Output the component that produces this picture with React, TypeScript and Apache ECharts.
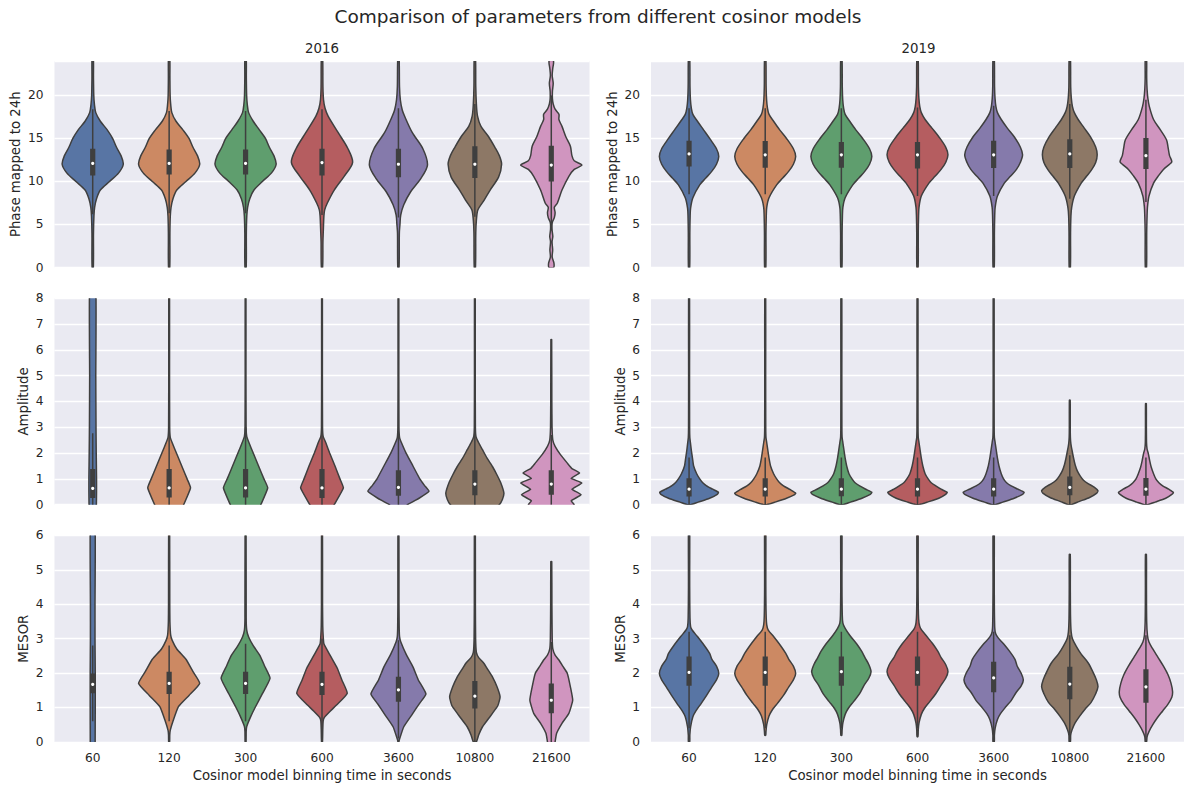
import React, { useEffect, useRef } from "react";
import * as echarts from "echarts";

// ---------- data ----------
const categories = ["60", "120", "300", "600", "3600", "10800", "21600"];
const yearTitles = ["2016", "2019"];
const yNames = ["Phase mapped to 24h", "Amplitude", "MESOR"];
const xName = "Cosinor model binning time in seconds";
const mainTitle = "Comparison of parameters from different cosinor models";

// violin half-widths (fraction of category band) at given y values: [y, halfWidth]
const phase2016Profiles = [
  [[0,0.008],[4,0.01],[6,0.016],[7,0.025],[8,0.05],[9,0.1],[10,0.22],[11,0.34],[12,0.4],[13,0.37],[14,0.31],[15,0.26],[16,0.19],[17,0.1],[18,0.04],[19,0.022],[20,0.014],[22,0.01],[24.5,0.008]],
  [[0,0.008],[4,0.01],[6,0.015],[7,0.025],[8,0.05],[9,0.1],[10,0.22],[11,0.34],[12,0.4],[13,0.37],[14,0.31],[15,0.26],[16,0.18],[17,0.09],[18,0.035],[19,0.02],[20,0.013],[22,0.01],[24.5,0.008]],
  [[0,0.008],[4,0.01],[6,0.016],[7,0.027],[8,0.055],[9,0.11],[10,0.22],[11,0.34],[12,0.4],[13,0.37],[14,0.31],[15,0.26],[16,0.18],[17,0.1],[18,0.04],[19,0.022],[20,0.014],[22,0.01],[24.5,0.008]],
  [[0,0.008],[3,0.012],[4,0.016],[6,0.025],[6.7,0.035],[7.5,0.07],[9,0.16],[10.6,0.29],[12.2,0.4],[13.8,0.34],[15.7,0.21],[17.6,0.08],[18.5,0.04],[19.5,0.02],[21,0.012],[24.5,0.008]],
  [[0,0.008],[4,0.012],[5,0.02],[6.1,0.03],[7.3,0.07],[8.8,0.16],[10.3,0.29],[11.9,0.38],[13.8,0.32],[15.7,0.18],[17.6,0.08],[18.3,0.05],[19.5,0.025],[21,0.014],[24.5,0.008]],
  [[0,0.008],[4,0.012],[5.5,0.02],[6.7,0.04],[7.8,0.12],[9,0.2],[10.5,0.31],[12,0.35],[13,0.32],[14,0.26],[15.2,0.18],[16.4,0.08],[17.6,0.035],[19,0.02],[21,0.012],[24.5,0.008]],
  [[0,0.03],[0.5,0.035],[1.2,0.012],[2.05,0.018],[3,0.01],[3.6,0.02],[4.4,0.01],[5.2,0.012],[5.8,0.04],[6.35,0.05],[7,0.04],[7.5,0.08],[9,0.14],[10.6,0.23],[11.4,0.3],[11.9,0.4],[12.4,0.3],[13,0.27],[14.1,0.25],[15.2,0.19],[16.4,0.14],[17.2,0.1],[17.8,0.1],[18.4,0.05],[19,0.025],[19.6,0.015],[20.5,0.015],[21.4,0.025],[22.3,0.012],[23.2,0.02],[23.8,0.03],[24.5,0.02]],
];
// [lower whisker, Q1, median, Q3, upper whisker]
const phase2016Boxes = [
  [6.2,10.7,12.1,13.8,18.4],[6.3,10.8,12.1,13.7,18.2],[6.3,10.8,12.1,13.7,18.2],[6.1,10.7,12.2,13.8,18.4],
  [5.8,10.5,12.0,13.8,18.5],[5.9,10.4,12.0,14.1,19.0],[4.3,10.0,11.9,14.15,20.0],
];

const phase2019Profiles = [
  [[0,0.008],[4,0.01],[6,0.014],[6.9,0.02],[8.1,0.05],[9.6,0.14],[10.4,0.22],[11.2,0.3],[12,0.36],[12.9,0.39],[13.8,0.36],[15.0,0.27],[16,0.19],[17,0.11],[17.8,0.05],[18.5,0.03],[19.5,0.018],[21,0.012],[24.5,0.008]],
  [[0,0.008],[4,0.01],[6,0.014],[7,0.02],[8.1,0.05],[9.6,0.15],[10.4,0.23],[11.2,0.31],[12,0.37],[12.9,0.4],[13.8,0.37],[15.0,0.28],[16,0.19],[17,0.11],[17.8,0.05],[18.5,0.03],[19.5,0.018],[21,0.012],[24.5,0.008]],
  [[0,0.008],[4,0.01],[6,0.014],[7,0.02],[8.1,0.05],[9.6,0.15],[10.4,0.23],[11.2,0.31],[12,0.37],[12.9,0.4],[13.8,0.37],[15.0,0.28],[16,0.19],[17,0.11],[17.8,0.05],[18.5,0.03],[19.5,0.018],[21,0.012],[24.5,0.008]],
  [[0,0.008],[4,0.01],[6,0.014],[7,0.02],[8.3,0.05],[9.8,0.15],[10.6,0.23],[11.4,0.31],[12.2,0.37],[13.1,0.4],[14,0.37],[15.2,0.28],[16.2,0.19],[17.2,0.1],[18,0.05],[18.7,0.03],[19.7,0.018],[21,0.012],[24.5,0.008]],
  [[0,0.008],[4,0.01],[6,0.014],[7,0.02],[8.3,0.05],[9.8,0.14],[10.6,0.22],[11.4,0.3],[12.2,0.35],[13.1,0.38],[14,0.35],[15.2,0.27],[16.2,0.18],[17.2,0.1],[18,0.05],[18.7,0.03],[19.7,0.018],[21,0.012],[24.5,0.008]],
  [[0,0.008],[4,0.01],[6,0.015],[7,0.025],[8.3,0.06],[9.8,0.15],[10.6,0.22],[11.4,0.29],[12.2,0.34],[13.1,0.36],[14,0.34],[15.2,0.27],[16.2,0.19],[17.2,0.11],[18,0.06],[18.7,0.035],[19.7,0.02],[21,0.012],[24.5,0.008]],
  [[0,0.008],[4,0.01],[6,0.015],[7,0.02],[8.3,0.04],[9.8,0.1],[10.6,0.16],[11.4,0.23],[12.0,0.31],[12.3,0.34],[13,0.31],[14.0,0.29],[14.85,0.27],[16,0.19],[17.2,0.1],[18.7,0.045],[19.7,0.025],[20.7,0.015],[22,0.01],[24.5,0.008]],
];
const phase2019Boxes = [
  [8.5,11.74,13.2,14.73,18.5],[8.5,11.6,13.1,14.7,18.5],[8.5,11.6,13.1,14.6,18.5],[8.3,11.5,13.1,14.6,18.6],
  [8.3,11.56,13.1,14.73,18.8],[8.0,11.56,13.2,14.9,19.0],[7.6,11.44,13.0,15.05,19.5],
];

const amp2016Profiles = [
  [[-0.2,0.045],[0,0.048],[0.5,0.05],[1,0.05],[2,0.046],[3,0.043],[5,0.04],[8.5,0.04]],
  [[-0.3,0.14],[0,0.19],[0.65,0.28],[1.0,0.235],[1.5,0.165],[2.0,0.095],[2.4,0.04],[2.6,0.015],[3,0.007],[5,0.005],[8.5,0.005]],
  [[-0.3,0.15],[0,0.2],[0.65,0.29],[1.0,0.24],[1.5,0.17],[2.0,0.1],[2.4,0.045],[2.65,0.015],[3,0.007],[5,0.005],[8.5,0.005]],
  [[-0.3,0.11],[0,0.16],[0.65,0.28],[1.0,0.235],[1.5,0.17],[2.0,0.1],[2.4,0.05],[2.65,0.015],[3,0.007],[5,0.005],[8.5,0.005]],
  [[-0.3,0.04],[0,0.12],[0.25,0.27],[0.52,0.4],[0.75,0.34],[1.0,0.28],[1.5,0.19],[2.0,0.1],[2.4,0.04],[2.6,0.015],[3,0.007],[5,0.005],[8.5,0.005]],
  [[-0.3,0.2],[0,0.32],[0.2,0.36],[0.45,0.38],[0.84,0.34],[1.15,0.29],[1.48,0.23],[1.8,0.16],[2.13,0.1],[2.4,0.05],[2.64,0.015],[3,0.007],[5,0.005],[8.5,0.005]],
  [[-0.2,0.22],[0,0.3],[0.15,0.26],[0.39,0.39],[0.6,0.27],[0.84,0.4],[1.02,0.26],[1.23,0.37],[1.4,0.27],[1.61,0.21],[1.94,0.12],[2.26,0.05],[2.5,0.02],[3,0.01],[4,0.007],[6.4,0.005]],
];
const amp2016Boxes = [
  [0,0.26,0.63,1.38,2.77],[0,0.28,0.65,1.38,3.0],[0,0.28,0.65,1.38,3.0],[0,0.26,0.65,1.38,3.0],
  [0,0.35,0.67,1.33,2.8],[0,0.37,0.8,1.33,2.8],[0,0.39,0.8,1.33,2.7],
];

const amp2019Profiles = [
  [[0,0.02],[0.1,0.12],[0.25,0.27],[0.4,0.37],[0.48,0.385],[0.6,0.31],[0.73,0.23],[0.85,0.18],[1.0,0.14],[1.2,0.1],[1.5,0.06],[1.8,0.045],[2.1,0.03],[2.4,0.018],[2.6,0.01],[3,0.007],[5,0.006],[8.5,0.006]],
  [[0,0.02],[0.1,0.13],[0.25,0.28],[0.38,0.38],[0.45,0.4],[0.58,0.33],[0.73,0.24],[0.85,0.19],[1.0,0.15],[1.2,0.11],[1.5,0.07],[1.8,0.05],[2.1,0.035],[2.4,0.02],[2.6,0.01],[3,0.007],[5,0.006],[8.5,0.006]],
  [[0,0.02],[0.1,0.12],[0.25,0.27],[0.4,0.38],[0.48,0.4],[0.6,0.32],[0.73,0.24],[0.85,0.18],[1.0,0.14],[1.2,0.1],[1.5,0.07],[1.8,0.05],[2.1,0.035],[2.4,0.02],[2.6,0.01],[3,0.007],[5,0.006],[8.5,0.006]],
  [[0,0.02],[0.1,0.13],[0.25,0.28],[0.4,0.37],[0.48,0.39],[0.6,0.31],[0.73,0.24],[0.85,0.18],[1.0,0.14],[1.2,0.1],[1.5,0.07],[1.8,0.05],[2.1,0.035],[2.4,0.02],[2.6,0.01],[3,0.007],[5,0.006],[8.5,0.006]],
  [[0,0.02],[0.1,0.12],[0.25,0.27],[0.4,0.38],[0.48,0.4],[0.6,0.32],[0.73,0.23],[0.85,0.17],[1.0,0.13],[1.2,0.1],[1.5,0.07],[1.8,0.05],[2.1,0.035],[2.4,0.02],[2.6,0.01],[3,0.007],[5,0.006],[8.5,0.006]],
  [[0,0.02],[0.12,0.12],[0.28,0.26],[0.44,0.35],[0.54,0.37],[0.68,0.32],[0.82,0.24],[0.95,0.18],[1.1,0.14],[1.3,0.1],[1.55,0.07],[1.8,0.05],[2.1,0.03],[2.35,0.015],[2.6,0.008],[3,0.006],[4.05,0.005]],
  [[0,0.02],[0.1,0.12],[0.25,0.26],[0.4,0.34],[0.48,0.36],[0.6,0.3],[0.73,0.22],[0.85,0.17],[1.0,0.13],[1.2,0.1],[1.45,0.07],[1.7,0.05],[2.0,0.03],[2.15,0.015],[2.4,0.008],[3,0.006],[3.92,0.005]],
];
const amp2019Boxes = [
  [0,0.32,0.6,1.02,1.83],[0,0.32,0.6,1.02,1.83],[0,0.33,0.6,1.02,1.83],[0,0.32,0.6,1.02,1.83],
  [0,0.32,0.6,1.02,1.83],[0,0.37,0.67,1.09,1.92],[0,0.35,0.6,1.03,1.83],
];

const mesor2016Profiles = [
  [[-0.2,0.03],[0,0.032],[1,0.033],[2,0.033],[3,0.03],[4,0.03],[6.5,0.03]],
  [[0,0.006],[0.2,0.008],[0.34,0.015],[0.6,0.05],[1.02,0.12],[1.35,0.26],[1.7,0.4],[2.05,0.31],[2.4,0.22],[2.7,0.1],[2.95,0.04],[3.1,0.02],[3.5,0.01],[4,0.008],[6.5,0.006]],
  [[0,0.006],[0.3,0.008],[0.45,0.015],[0.75,0.07],[1.0,0.125],[1.4,0.22],[1.85,0.32],[2.2,0.25],[2.5,0.19],[2.8,0.1],[3.05,0.04],[3.25,0.015],[3.6,0.008],[6.5,0.006]],
  [[0,0.006],[0.35,0.01],[0.6,0.015],[0.71,0.03],[0.9,0.11],[1.07,0.19],[1.41,0.33],[1.8,0.26],[2.14,0.2],[2.5,0.11],[2.85,0.025],[3.1,0.015],[3.35,0.01],[4,0.007],[6.5,0.006]],
  [[0,0.006],[0.05,0.01],[0.44,0.07],[0.8,0.18],[1.1,0.27],[1.39,0.36],[1.8,0.26],[2.18,0.19],[2.55,0.1],[2.91,0.03],[3.05,0.015],[3.3,0.01],[4,0.007],[6.5,0.006]],
  [[0,0.02],[0.2,0.05],[0.44,0.1],[0.65,0.17],[0.83,0.23],[1.05,0.3],[1.31,0.33],[1.6,0.29],[1.89,0.23],[2.1,0.17],[2.28,0.12],[2.45,0.05],[2.6,0.02],[3,0.01],[4,0.007],[6.5,0.006]],
  [[-0.2,0.04],[0,0.05],[0.25,0.07],[0.54,0.14],[0.83,0.23],[1.21,0.28],[1.6,0.25],[1.99,0.21],[2.2,0.15],[2.38,0.1],[2.52,0.05],[2.7,0.02],[3,0.012],[4,0.008],[5.24,0.006]],
];
const mesor2016Boxes = [
  [0.6,1.41,1.67,1.99,2.8],[0.6,1.39,1.7,2.04,2.8],[0.6,1.39,1.7,2.04,2.85],[0.35,1.36,1.67,2.04,3.0],
  [0.1,1.17,1.51,1.89,2.95],[0,0.97,1.33,1.77,2.95],[0,0.83,1.21,1.7,2.9],
];

const mesor2019Profiles = [
  [[0,0.008],[0.2,0.01],[0.44,0.02],[0.73,0.05],[0.9,0.09],[1.12,0.16],[1.35,0.23],[1.6,0.3],[1.8,0.36],[1.99,0.39],[2.2,0.36],[2.4,0.3],[2.57,0.27],[2.8,0.2],[3.06,0.11],[3.25,0.04],[3.35,0.02],[3.6,0.012],[4.5,0.008],[6.5,0.007]],
  [[0.19,0.006],[0.3,0.01],[0.5,0.02],[0.75,0.05],[0.92,0.09],[1.12,0.16],[1.35,0.24],[1.6,0.31],[1.8,0.37],[1.99,0.4],[2.2,0.37],[2.4,0.31],[2.57,0.27],[2.8,0.2],[3.06,0.11],[3.25,0.04],[3.4,0.02],[3.7,0.012],[4.5,0.008],[6.5,0.007]],
  [[0.19,0.006],[0.35,0.01],[0.55,0.02],[0.8,0.05],[0.97,0.09],[1.17,0.16],[1.4,0.24],[1.65,0.3],[1.85,0.36],[2.04,0.39],[2.25,0.36],[2.45,0.31],[2.62,0.27],[2.85,0.2],[3.1,0.11],[3.3,0.05],[3.45,0.02],[3.7,0.012],[4.5,0.008],[6.5,0.007]],
  [[0.15,0.006],[0.35,0.01],[0.55,0.02],[0.8,0.05],[0.97,0.09],[1.17,0.16],[1.4,0.24],[1.65,0.31],[1.85,0.37],[2.04,0.4],[2.25,0.37],[2.45,0.31],[2.62,0.27],[2.85,0.2],[3.1,0.11],[3.3,0.04],[3.45,0.02],[3.7,0.012],[4.5,0.008],[6.5,0.007]],
  [[0,0.008],[0.2,0.01],[0.4,0.02],[0.65,0.05],[0.82,0.09],[1.02,0.16],[1.2,0.23],[1.45,0.3],[1.62,0.36],[1.8,0.39],[2.0,0.36],[2.2,0.31],[2.4,0.28],[2.6,0.22],[2.85,0.13],[3.05,0.05],[3.2,0.02],[3.5,0.012],[4.5,0.008],[6.5,0.007]],
  [[0,0.008],[0.2,0.012],[0.35,0.03],[0.55,0.07],[0.75,0.13],[0.95,0.2],[1.15,0.28],[1.4,0.34],[1.6,0.37],[1.8,0.35],[2.05,0.3],[2.3,0.24],[2.55,0.15],[2.8,0.08],[3.0,0.035],[3.2,0.018],[3.6,0.01],[4.5,0.007],[5.45,0.006]],
  [[0,0.008],[0.15,0.015],[0.3,0.04],[0.5,0.09],[0.7,0.15],[0.9,0.22],[1.1,0.29],[1.3,0.34],[1.46,0.35],[1.7,0.33],[1.95,0.29],[2.2,0.23],[2.45,0.16],[2.7,0.09],[2.9,0.04],[3.1,0.02],[3.5,0.01],[4.5,0.007],[5.45,0.006]],
];
const mesor2019Boxes = [
  [0.4,1.63,2.02,2.48,3.2],[0.4,1.63,2.02,2.48,3.2],[0.4,1.63,2.04,2.48,3.2],[0.4,1.63,2.02,2.48,3.2],
  [0.2,1.44,1.86,2.33,3.2],[0,1.24,1.68,2.18,3.1],[0,1.14,1.6,2.11,3.1],
];

const yMaxes = [24, 8, 6];
const yIntervals = [5, 1, 1];

// ---------- styles / layout ----------
const violinColors = ["#5875A4", "#CC8963", "#5F9E6E", "#B55D60", "#857AAB", "#8D7866", "#D095BF"];
const FONT = "DejaVu Sans";
const TXT = "#262626";
const EDGE = "#3F3F3F";
const GRID_LEFTS = [54.5, 651];
const GRID_TOPS = [61, 298.2, 535.4];
const GRID_W = 535;
const GRID_H = 206.5;
const NAME_GAPS = [[32.3, 31.8], [24.1, 24], [24.1, 24]];

const panels = [
  { row: 0, col: 0, profiles: phase2016Profiles, boxes: phase2016Boxes, smooth: 0.3 },
  { row: 0, col: 1, profiles: phase2019Profiles, boxes: phase2019Boxes, smooth: 0.3 },
  { row: 1, col: 0, profiles: amp2016Profiles, boxes: amp2016Boxes, smooth: 0.12 },
  { row: 1, col: 1, profiles: amp2019Profiles, boxes: amp2019Boxes, smooth: 0.2 },
  { row: 2, col: 0, profiles: mesor2016Profiles, boxes: mesor2016Boxes, smooth: 0.15 },
  { row: 2, col: 1, profiles: mesor2019Profiles, boxes: mesor2019Boxes, smooth: 0.3 },
];

function makeRenderItem(profiles: number[][][], boxes: number[][], smooth: number) {
  return (params: any, api: any) => {
    const i = params.dataIndex;
    const prof = profiles[i];
    const box = boxes[i];
    const band = api.size([1, 0])[0];
    const right = prof.map(([y, w]) => {
      const p = api.coord([i, y]);
      return [p[0] + w * band, p[1]];
    });
    const left = prof
      .slice()
      .reverse()
      .map(([y, w]) => {
        const p = api.coord([i, y]);
        return [p[0] - w * band, p[1]];
      });
    const lo = api.coord([i, box[0]]);
    const q1 = api.coord([i, box[1]]);
    const med = api.coord([i, box[2]]);
    const q3 = api.coord([i, box[3]]);
    const hi = api.coord([i, box[4]]);
    return {
      type: "group",
      children: [
        {
          type: "polygon",
          shape: { points: right.concat(left), smooth },
          style: { fill: violinColors[i], stroke: EDGE, lineWidth: 1.5 },
        },
        {
          type: "line",
          shape: { x1: lo[0], y1: lo[1], x2: hi[0], y2: hi[1] },
          style: { stroke: EDGE, lineWidth: 1.5 },
        },
        {
          type: "rect",
          shape: { x: q3[0] - 2.6, y: q3[1], width: 5.2, height: q1[1] - q3[1] },
          style: { fill: EDGE },
        },
        {
          type: "circle",
          shape: { cx: med[0], cy: med[1], r: 1.6 },
          style: { fill: "#ffffff" },
        },
      ],
    };
  };
}

export default function App() {
  const ref = useRef<HTMLDivElement>(null);
  useEffect(() => {
    document.body.style.margin = "0";
    if (!ref.current) return;
    const chart = echarts.init(ref.current, undefined, { renderer: "svg" });

    const grids = panels.map((p) => ({
      left: GRID_LEFTS[p.col],
      top: GRID_TOPS[p.row],
      width: GRID_W,
      height: GRID_H,
      show: true,
      backgroundColor: "#EAEAF2",
      borderWidth: 0,
      containLabel: false,
    }));

    const xAxes = panels.map((p, k) => ({
      gridIndex: k,
      type: "category",
      data: categories,
      axisLine: { show: false },
      axisTick: { show: false },
      splitLine: { show: false },
      axisLabel: {
        show: p.row === 2,
        fontSize: 12.2,
        color: TXT,
        fontFamily: FONT,
        margin: 10.5,
      },
      name: p.row === 2 ? xName : "",
      nameLocation: "middle",
      nameGap: 27.1,
      nameTextStyle: { fontSize: 13.3, color: TXT, fontFamily: FONT },
    }));

    const yAxes = panels.map((p, k) => ({
      gridIndex: k,
      type: "value",
      min: 0,
      max: yMaxes[p.row],
      interval: yIntervals[p.row],
      axisLine: { show: false },
      axisTick: { show: false },
      splitLine: { show: true, lineStyle: { color: "#FFFFFF", width: 1.3 } },
      axisLabel: {
        fontSize: 12.2,
        color: TXT,
        fontFamily: FONT,
        margin: 11,
        showMaxLabel: p.row !== 0,
      },
      name: yNames[p.row],
      nameLocation: "middle",
      nameGap: NAME_GAPS[p.row][p.col],
      nameTextStyle: { fontSize: 13.3, color: TXT, fontFamily: FONT },
    }));

    const series = panels.map((p, k) => ({
      type: "custom",
      xAxisIndex: k,
      yAxisIndex: k,
      clip: true,
      encode: { x: 0, y: 1 },
      data: categories.map((_, i) => [i, p.boxes[i][2]]),
      renderItem: makeRenderItem(p.profiles, p.boxes, p.smooth),
    }));

    const titles: any[] = [
      {
        text: mainTitle,
        left: 598,
        top: 7,
        textAlign: "center",
        padding: 0,
        textStyle: { fontSize: 18.5, fontWeight: "normal", color: TXT, fontFamily: FONT },
      },
      ...yearTitles.map((t, c) => ({
        text: t,
        left: GRID_LEFTS[c] + GRID_W / 2,
        top: 42,
        textAlign: "center",
        padding: 0,
        textStyle: { fontSize: 13.3, fontWeight: "normal", color: TXT, fontFamily: FONT },
      })),
    ];

    chart.setOption({
      animation: false,
      backgroundColor: "#FFFFFF",
      title: titles,
      grid: grids,
      xAxis: xAxes,
      yAxis: yAxes,
      series,
    });
    return () => chart.dispose();
  }, []);
  return (
    <div
      ref={ref}
      style={{ position: "fixed", left: 0, top: 0, width: 1184, height: 787 }}
    />
  );
}
